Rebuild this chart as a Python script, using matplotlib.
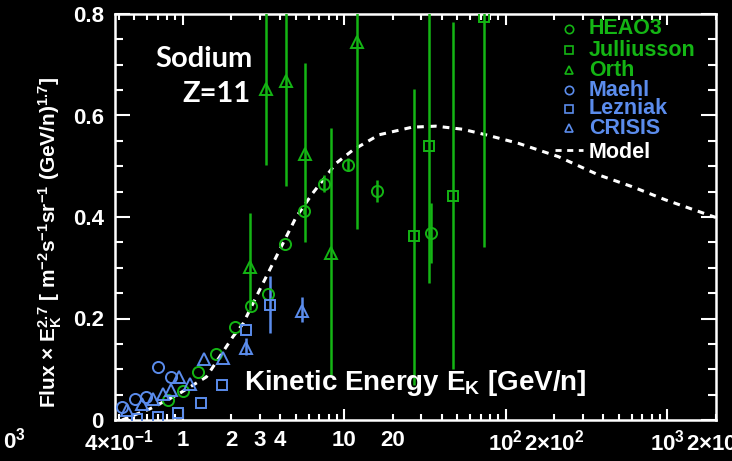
import numpy as np
import matplotlib
matplotlib.use('Agg')
import matplotlib.pyplot as plt
from matplotlib.ticker import LogLocator, FixedLocator, FuncFormatter, MultipleLocator
from matplotlib.lines import Line2D

plt.rcParams['font.family'] = ['Liberation Sans', 'DejaVu Sans']
plt.rcParams['font.weight'] = 'bold'
plt.rcParams['mathtext.fontset'] = 'custom'
plt.rcParams['mathtext.rm'] = 'Liberation Sans:bold'
plt.rcParams['mathtext.it'] = 'Liberation Sans:bold'
plt.rcParams['mathtext.bf'] = 'Liberation Sans:bold'
plt.rcParams['mathtext.default'] = 'rm'

GREEN = '#14b514'
BLUE = '#5b8cec'

# ---------------- data ----------------
heao3_e = [0.81, 1.0, 1.24, 1.60, 2.11, 2.63, 3.36, 4.3, 5.6, 7.5, 10.6, 16.0, 34.6]
heao3_f = [0.039, 0.058, 0.094, 0.131, 0.183, 0.225, 0.248, 0.346, 0.412, 0.466, 0.503, 0.451, 0.369]
heao3_lo = [0, 0, 0, 0, 0, 0, 0, 0, 0.006, 0.017, 0.013, 0.022, 0.060]
heao3_hi = [0, 0, 0, 0, 0, 0, 0, 0, 0.006, 0.017, 0.013, 0.022, 0.058]

jul_e = [26.8, 33.5, 47.1, 73.5]
jul_f = [0.363, 0.539, 0.442, 0.795]
jul_lo = [0.294, 0.269, 0.342, 0.454]
jul_hi = [0.290, 0.400, 0.343, 0.200]

orth_e = [2.62, 3.28, 4.32, 5.69, 8.32, 12.0]
orth_f = [0.301, 0.652, 0.667, 0.525, 0.330, 0.745]
orth_lo = [0.084, 0.150, 0.205, 0.174, 0.241, 0.369]
orth_hi = [0.106, 0.300, 0.300, 0.178, 0.245, 0.200]

maehl_e = [0.42, 0.505, 0.59, 0.70, 0.84]
maehl_f = [0.025, 0.041, 0.045, 0.104, 0.085]

lez_e = [0.52, 0.70, 0.935, 1.29, 1.75, 2.45, 3.48]
lez_f = [0.001, 0.005, 0.013, 0.033, 0.068, 0.177, 0.227]
lez_lo = [0, 0, 0, 0, 0, 0, 0.056]
lez_hi = [0, 0, 0, 0, 0, 0, 0.057]

crisis_e = [0.45, 0.556, 0.65, 0.756, 0.85, 0.95, 1.10, 1.35, 1.76, 2.45, 5.45]
crisis_f = [0.020, 0.032, 0.042, 0.051, 0.060, 0.084, 0.070, 0.120, 0.122, 0.141, 0.215]
crisis_lo = [0, 0, 0, 0, 0, 0, 0, 0, 0, 0.013, 0.021]
crisis_hi = [0, 0, 0, 0, 0, 0, 0, 0, 0, 0.020, 0.028]

model_e = [0.42, 0.625, 0.915, 1.40, 2.04, 2.36, 3.06, 3.79, 5.03, 6.37, 8.9, 11.3,
           16.4, 26.3, 36.8, 53.7, 75.2, 120, 211, 374, 602, 969, 1800, 2000]
model_f = [0.0, 0.022, 0.049, 0.085, 0.164, 0.190, 0.263, 0.322, 0.400, 0.447, 0.506, 0.532,
           0.562, 0.577, 0.579, 0.573, 0.562, 0.545, 0.519, 0.483, 0.460, 0.434, 0.404, 0.399]

legend_labels = ['HEAO3', 'Julliusson', 'Orth', 'Maehl', 'Lezniak', 'CRISIS', 'Model']

xtick_major = [1, 10, 100, 1000]
xtick_major_labels = ['1', '10', r'$10^{2}$', r'$10^{3}$']
xtick_minor = [0.4, 2, 3, 4, 20, 200, 2000]
xtick_minor_labels = [r'$4{\times}10^{-1}$', '2', '3', '4', '20', r'$2{\times}10^{2}$', r'$2{\times}10^{3}$']

# ---------------- figure ----------------
W, H = 732, 461
fig = plt.figure(figsize=(W / 100, H / 100), dpi=100, facecolor='black')
ax_l, ax_r, ax_t, ax_b = 115, 716, 14, 420
ax = fig.add_axes([ax_l / W, (H - ax_b) / H, (ax_r - ax_l) / W, (ax_b - ax_t) / H], facecolor='black')
ax.set_xscale('log')
ax.set_xlim(0.38, 2000)
ax.set_ylim(0, 0.8)

# model
ax.plot(model_e, model_f, color='white', lw=2.2, dashes=(2.2, 2.0), zorder=2)

ekw = dict(linestyle='none', mfc='none', capsize=0, elinewidth=1.8, mew=1.4, zorder=3)
ax.errorbar(heao3_e, heao3_f, yerr=[heao3_lo, heao3_hi], fmt='o', ms=8, mec=GREEN, ecolor=GREEN, **ekw)
ax.errorbar(jul_e, jul_f, yerr=[jul_lo, jul_hi], fmt='s', ms=7.5, mec=GREEN, ecolor=GREEN, **ekw)
ax.errorbar(orth_e, orth_f, yerr=[orth_lo, orth_hi], fmt='^', ms=9, mec=GREEN, ecolor=GREEN, **ekw)
ax.errorbar(maehl_e, maehl_f, fmt='o', ms=8, mec=BLUE, ecolor=BLUE, **ekw)
ax.errorbar(lez_e, lez_f, yerr=[lez_lo, lez_hi], fmt='s', ms=7.5, mec=BLUE, ecolor=BLUE, **ekw)
ax.errorbar(crisis_e, crisis_f, yerr=[crisis_lo, crisis_hi], fmt='^', ms=9, mec=BLUE, ecolor=BLUE, **ekw)

# axes style
for s in ax.spines.values():
    s.set_color('white')
    s.set_linewidth(1.8)

ax.xaxis.set_major_locator(FixedLocator(xtick_major))
ax.xaxis.set_major_formatter(FuncFormatter(lambda v, p: dict(zip(xtick_major, xtick_major_labels)).get(round(v, 6), '')))
ax.xaxis.set_minor_locator(LogLocator(base=10, subs=np.arange(2, 10)))
def minor_fmt(v, p):
    for tv, tl in zip(xtick_minor, xtick_minor_labels):
        if abs(v - tv) / tv < 1e-6:
            return tl
    return ''
ax.xaxis.set_minor_formatter(FuncFormatter(minor_fmt))

ax.yaxis.set_major_locator(MultipleLocator(0.2))
ax.yaxis.set_minor_locator(MultipleLocator(0.05))
ax.yaxis.set_major_formatter(FuncFormatter(lambda v, p: '0' if abs(v) < 1e-9 else f'{v:.1f}'))

ax.tick_params(axis='x', which='both', direction='in', top=True, bottom=True, colors='white',
               labelsize=16, width=1.5, pad=7)
ax.tick_params(axis='x', which='major', length=8)
ax.tick_params(axis='x', which='minor', length=4)
ax.tick_params(axis='y', which='both', direction='in', left=True, right=True, colors='white',
               labelsize=16, width=1.5, pad=8)
ax.tick_params(axis='y', which='major', length=11)
ax.tick_params(axis='y', which='minor', length=6)

# labels
ax.text(0.499, 0.074, r'Kinetic Energy E$_{K}$ [GeV/n]', transform=ax.transAxes,
        ha='center', va='baseline', color='white', fontsize=20, fontweight='bold', zorder=5)
fig.text(50 / W, (H - 242) / H,
         r'Flux $\times$ E$_{K}^{2.7}$ [ m$^{-2}$s$^{-1}$sr$^{-1}$ (GeV/n)$^{1.7}$]',
         rotation=90, ha='center', va='center', color='white', fontsize=15, fontweight='bold')

fig.text(155 / W, (H - 67) / H, 'Sodium', family='Lato', fontweight='bold', fontsize=21,
         color='white', ha='left', va='baseline')
fig.text(182 / W, (H - 102) / H, 'Z=11', family='Lato', fontweight='bold', fontsize=21,
         color='white', ha='left', va='baseline')

fig.text(3 / W, (H - 448) / H, r'$0^{3}$', color='white', fontsize=16, ha='left', va='baseline')

# legend (manual)
leg_markers = ['o', 's', '^', 'o', 's', '^']
leg_colors = [GREEN, GREEN, GREEN, BLUE, BLUE, BLUE]
leg_rows = [29, 50, 70, 90, 109, 128, 152]
mx, tx = 569, 589
for lbl, mk, col, ry in zip(legend_labels[:6], leg_markers, leg_colors, leg_rows[:6]):
    fig.add_artist(Line2D([mx / W], [(H - ry) / H], marker=mk, ms=6, mfc='none', mec=col, mew=1.2,
                          linestyle='none', transform=fig.transFigure))
    fig.text(tx / W, (H - ry) / H, lbl, color=col, fontsize=15.5, fontweight='bold',
             ha='left', va='center')
fig.add_artist(Line2D([555 / W, 583 / W], [(H - 150) / H] * 2, color='white', lw=2.0,
                      dashes=(2.2, 2.0), transform=fig.transFigure))
fig.text(tx / W, (H - 152) / H, legend_labels[6], color='white', fontsize=15.5, fontweight='bold',
         ha='left', va='center')

fig.savefig('out.png', dpi=100, facecolor='black')
